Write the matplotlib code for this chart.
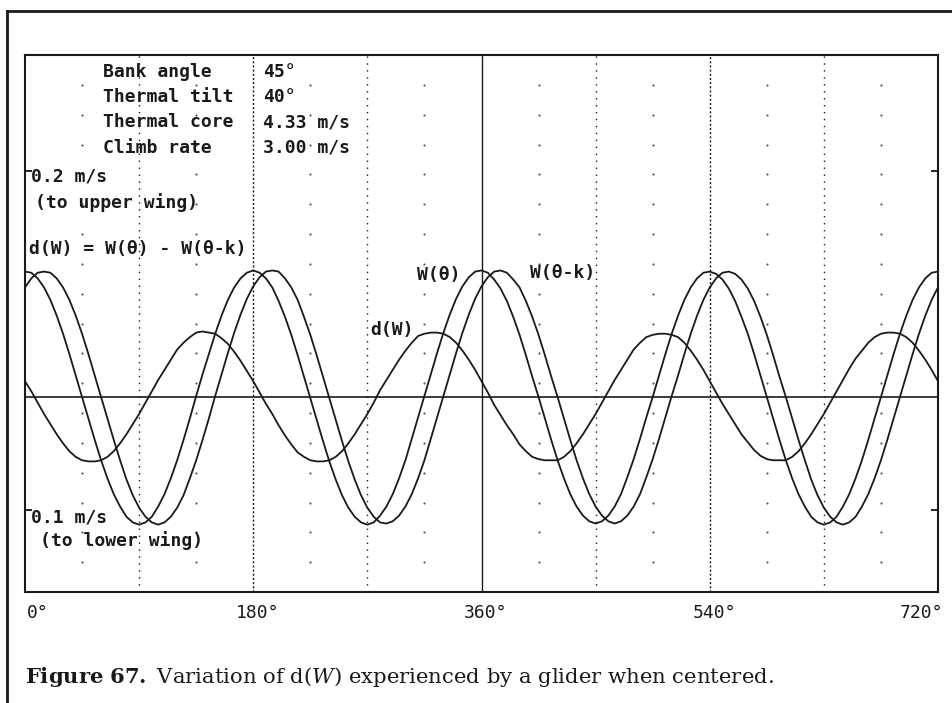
import matplotlib

matplotlib.use("Agg")

import matplotlib.pyplot as plt
import numpy as np
from matplotlib.lines import Line2D

theta = list(range(0, 725, 5))

w_theta = [
    0.111, 0.110, 0.105, 0.097, 0.086, 0.072, 0.056, 0.038, 0.019, 0.000,
    -0.019, -0.038, -0.056, -0.072, -0.086, -0.097, -0.106, -0.111, -0.113, -0.111,
    -0.106, -0.097, -0.086, -0.072, -0.056, -0.038, -0.019, 0.001, 0.020, 0.038,
    0.056, 0.072, 0.086, 0.097, 0.105, 0.110,
    0.112, 0.110, 0.105, 0.097, 0.085, 0.071, 0.055, 0.037, 0.018, -0.001,
    -0.020, -0.039, -0.057, -0.073, -0.087, -0.098, -0.106, -0.111, -0.113, -0.111,
    -0.105, -0.097, -0.086, -0.072, -0.056, -0.037, -0.018, 0.001, 0.020, 0.039,
    0.057, 0.073, 0.087, 0.098, 0.106, 0.111,
    0.112, 0.110, 0.104, 0.096, 0.085, 0.071, 0.055, 0.037, 0.018, 0.000,
    -0.019, -0.038, -0.056, -0.072, -0.086, -0.097, -0.105, -0.110, -0.112, -0.110,
    -0.105, -0.097, -0.086, -0.071, -0.055, -0.037, -0.018, 0.000, 0.019, 0.038,
    0.056, 0.072, 0.086, 0.097, 0.105, 0.110,
    0.111, 0.109, 0.104, 0.096, 0.085, 0.071, 0.056, 0.038, 0.019, 0.000,
    -0.019, -0.038, -0.056, -0.072, -0.086, -0.097, -0.106, -0.111, -0.113, -0.111,
    -0.106, -0.097, -0.086, -0.072, -0.056, -0.038, -0.019, 0.000, 0.019, 0.038,
    0.056, 0.072, 0.086, 0.097, 0.105, 0.110,
    0.111,
]

w_theta_k = [
    0.097, 0.105, 0.110, 0.111, 0.110, 0.105, 0.097, 0.086, 0.072, 0.056,
    0.038, 0.019, 0.000, -0.019, -0.038, -0.056, -0.073, -0.087, -0.098, -0.106,
    -0.111, -0.113, -0.111, -0.106, -0.098, -0.087, -0.072, -0.056, -0.038, -0.019,
    0.001, 0.020, 0.039, 0.057, 0.073, 0.087,
    0.098, 0.106, 0.111, 0.112, 0.111, 0.105, 0.097, 0.086, 0.071, 0.055,
    0.037, 0.018, -0.001, -0.020, -0.039, -0.057, -0.073, -0.087, -0.098, -0.106,
    -0.111, -0.112, -0.110, -0.105, -0.097, -0.086, -0.072, -0.056, -0.037, -0.018,
    0.001, 0.020, 0.039, 0.057, 0.073, 0.087,
    0.098, 0.106, 0.111, 0.112, 0.110, 0.104, 0.097, 0.085, 0.071, 0.055,
    0.037, 0.018, 0.000, -0.019, -0.038, -0.056, -0.072, -0.086, -0.097, -0.105,
    -0.110, -0.112, -0.110, -0.105, -0.097, -0.086, -0.071, -0.055, -0.037, -0.018,
    0.001, 0.019, 0.038, 0.056, 0.072, 0.086,
    0.097, 0.105, 0.110, 0.111, 0.109, 0.104, 0.096, 0.085, 0.071, 0.055,
    0.037, 0.018, 0.000, -0.019, -0.038, -0.056, -0.073, -0.087, -0.098, -0.106,
    -0.111, -0.113, -0.111, -0.106, -0.097, -0.086, -0.072, -0.056, -0.038, -0.019,
    0.000, 0.019, 0.038, 0.056, 0.072, 0.086,
    0.097,
]

d_w = [
    0.014, 0.005, -0.005, -0.015, -0.024, -0.033, -0.041, -0.048, -0.053, -0.056,
    -0.057, -0.057, -0.056, -0.053, -0.048, -0.041, -0.033, -0.024, -0.015, -0.005,
    0.005, 0.015, 0.024, 0.033, 0.042, 0.048, 0.053, 0.057, 0.058, 0.057,
    0.056, 0.052, 0.047, 0.040, 0.032, 0.023,
    0.014, 0.004, -0.006, -0.015, -0.025, -0.034, -0.042, -0.049, -0.053, -0.056,
    -0.057, -0.057, -0.056, -0.053, -0.048, -0.041, -0.033, -0.024, -0.015, -0.005,
    0.006, 0.015, 0.024, 0.033, 0.041, 0.048, 0.054, 0.056, 0.057, 0.057,
    0.056, 0.053, 0.048, 0.041, 0.033, 0.024,
    0.014, 0.004, -0.007, -0.016, -0.025, -0.033, -0.042, -0.048, -0.053, -0.055,
    -0.056, -0.056, -0.056, -0.053, -0.048, -0.041, -0.033, -0.024, -0.015, -0.005,
    0.005, 0.015, 0.024, 0.033, 0.042, 0.048, 0.053, 0.055, 0.056, 0.056,
    0.055, 0.053, 0.048, 0.041, 0.033, 0.024,
    0.014, 0.004, -0.006, -0.015, -0.024, -0.033, -0.040, -0.047, -0.052, -0.055,
    -0.056, -0.056, -0.056, -0.053, -0.048, -0.041, -0.033, -0.024, -0.015, -0.005,
    0.005, 0.015, 0.025, 0.034, 0.041, 0.048, 0.053, 0.056, 0.057, 0.057,
    0.056, 0.053, 0.048, 0.041, 0.033, 0.024,
    0.014,
]

x_labels = ["0°", "180°", "360°", "540°", "720°"]
x_label_pos = [0, 180, 360, 540, 720]

params = ["Bank angle", "Thermal tilt", "Thermal core", "Climb rate"]
param_values = ["45°", "40°", "4.33 m/s", "3.00 m/s"]

MONO = "DejaVu Sans Mono"
INK = "#1a1a1a"

fig = plt.figure(figsize=(9.53, 7.03), dpi=100)
ax = fig.add_axes([25 / 953, 111 / 703, 913 / 953, 537 / 703])
ax.set_xlim(0, 720)
ax.set_ylim(-0.1726, 0.3027)

# grid: vertical guide lines
for x in [90, 270, 450, 630]:
    ax.axvline(x, color=INK, lw=1, ls=(0, (1, 4)))
for x in [180, 540]:
    ax.axvline(x, color=INK, lw=1, ls=(0, (1.5, 1.5)))
ax.axvline(360, color=INK, lw=1)
ax.axhline(0, color=INK, lw=1.2)

# dot grid
dot_x = [45, 135, 225, 315, 405, 495, 585, 675]
dot_y = [k / 18 for k in range(1, 18)]
gx, gy = np.meshgrid(dot_x, dot_y)
ax.scatter(gx.ravel(), gy.ravel(), s=2.5, color="0.35", lw=0,
           transform=ax.get_xaxis_transform())

ax.plot(theta, w_theta, color=INK, lw=1.3)
ax.plot(theta, w_theta_k, color=INK, lw=1.3)
ax.plot(theta, d_w, color=INK, lw=1.3)

ax.set_xticks([])
ax.set_yticks([0.2, -0.1])
ax.tick_params(axis="y", direction="in", length=5, width=1.2,
               left=True, right=True, labelleft=False)
for s in ax.spines.values():
    s.set_linewidth(1.5)
    s.set_color(INK)

txt = dict(family=MONO, fontsize=13, fontweight="bold", color=INK, va="center")
for i, (p, v) in enumerate(zip(params, param_values)):
    y = 0.288 - i * 0.0225
    ax.text(61.5, y, p, ha="left", **txt)
    ax.text(187.5, y, v, ha="left", **txt)

ax.text(5.0, 0.195, "0.2 m/s", ha="left", **txt)
ax.text(7.5, 0.172, "(to upper wing)", ha="left", **txt)
ax.text(3.5, 0.131, "d(W) = W(θ) - W(θ-k)", ha="left", **txt)
ax.text(309, 0.108, "W(θ)", ha="left", **txt)
ax.text(398, 0.110, "W(θ-k)", ha="left", **txt)
ax.text(272, 0.059, "d(W)", ha="left", **txt)
ax.text(5.0, -0.107, "0.1 m/s", ha="left", **txt)
ax.text(11.5, -0.127, "(to lower wing)", ha="left", **txt)

xt = dict(family=MONO, fontsize=13, color=INK, va="center")
for pos, lab in zip(x_label_pos, x_labels):
    ha = "left" if pos == 0 else ("right" if pos == 720 else "center")
    shift = {0: 1.5, 720: 4}.get(pos, 3.5)
    ax.text(pos + shift, -0.039, lab, ha=ha,
            transform=ax.get_xaxis_transform(), **xt)

# outer page frame
fig.add_artist(Line2D([7 / 953, 1], [1 - 11 / 703] * 2,
                      transform=fig.transFigure, color=INK, lw=2))
fig.add_artist(Line2D([7 / 953] * 2, [0, 1 - 11 / 703],
                      transform=fig.transFigure, color=INK, lw=2))

plt.rcParams["mathtext.fontset"] = "dejavuserif"
fig.text(25 / 953, 1 - 677 / 703,
         r"$\mathbf{Figure\ 67.}$ Variation of d($\mathit{W}$) experienced by a glider when centered.",
         family="DejaVu Serif", fontsize=15.2, color=INK, va="center", ha="left")

fig.savefig("out.png", dpi=100)
